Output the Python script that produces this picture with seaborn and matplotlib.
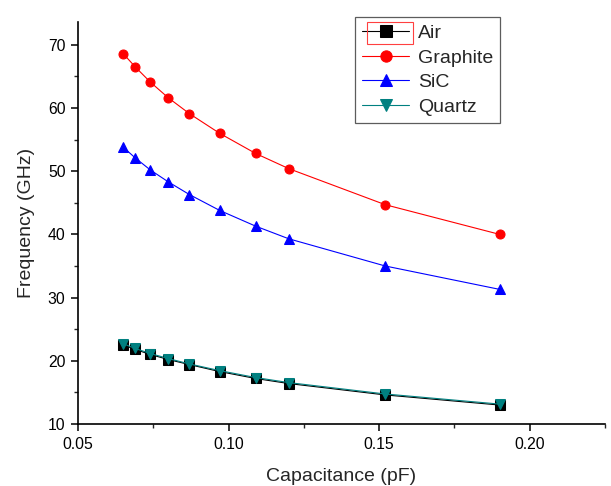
import matplotlib
matplotlib.use("Agg")
import matplotlib.pyplot as plt
import seaborn as sns
import pandas as pd
from matplotlib.ticker import MultipleLocator, FormatStrFormatter
from matplotlib.patches import Rectangle

sns.set_theme(style="ticks")
plt.rcParams['font.family'] = ['Liberation Sans', 'DejaVu Sans']

capacitance = [0.065, 0.069, 0.074, 0.080, 0.087, 0.097, 0.109, 0.120, 0.152, 0.190]
air = [22.5, 21.8, 21.0, 20.2, 19.4, 18.3, 17.2, 16.4, 14.6, 13.0]
graphite = [68.6, 66.5, 64.1, 61.6, 59.1, 56.0, 52.8, 50.4, 44.7, 40.0]
sic = [53.8, 52.1, 50.2, 48.3, 46.3, 43.8, 41.3, 39.3, 35.0, 31.3]
quartz = [22.7, 21.95, 21.15, 20.35, 19.5, 18.45, 17.35, 16.55, 14.75, 13.15]

series = {"Air": air, "Graphite": graphite, "SiC": sic, "Quartz": quartz}
colors = {"Air": "#000000", "Graphite": "#ff0000", "SiC": "#0000ff", "Quartz": "#008080"}
markers = {"Air": "s", "Graphite": "o", "SiC": "^", "Quartz": "v"}

rows = []
for name, vals in series.items():
    for c, f in zip(capacitance, vals):
        rows.append({"Capacitance": c, "Frequency": f, "Material": name})
df = pd.DataFrame(rows)

fig = plt.figure(figsize=(6.11, 4.86), dpi=100)
ax = fig.add_axes([78 / 611, 1 - 424 / 486, 527 / 611, 402 / 486])

for name in series:
    sub = df[df["Material"] == name]
    sns.lineplot(data=sub, x="Capacitance", y="Frequency", ax=ax,
                 color=colors[name], marker=markers[name], markersize=6.5,
                 markeredgecolor=colors[name], linewidth=0.8, label=name,
                 estimator=None, sort=False)

ax.set_xlim(0.05, 0.225)
ax.set_ylim(10, 73.6)
ax.xaxis.set_major_locator(MultipleLocator(0.05))
ax.xaxis.set_minor_locator(MultipleLocator(0.025))
ax.yaxis.set_major_locator(MultipleLocator(10))
ax.yaxis.set_minor_locator(MultipleLocator(5))
ax.xaxis.set_major_formatter(FormatStrFormatter("%.2f"))
ax.tick_params(which="major", direction="out", length=5, width=1.1,
               labelsize=11.3, colors="#000000", pad=4)
ax.tick_params(which="minor", direction="out", length=3, width=1.0)
for s in ["top", "right"]:
    ax.spines[s].set_visible(False)
for s in ["left", "bottom"]:
    ax.spines[s].set_color("#000000")
    ax.spines[s].set_linewidth(1.2)

ax.set_xlabel("Capacitance (pF)", fontsize=14, labelpad=12)
ax.set_ylabel("Frequency (GHz)", fontsize=14, labelpad=9)

leg = ax.legend(loc="upper left", bbox_to_anchor=(355 / 611, 1 - 17 / 486),
                bbox_transform=fig.transFigure, fontsize=14, frameon=True,
                fancybox=False, edgecolor="#333333", handlelength=2.4,
                borderpad=0.38, labelspacing=0.36, handletextpad=0.45,
                borderaxespad=0, markerscale=1.25)
leg.get_frame().set_linewidth(0.9)

# thin red box around the first legend key
fig.add_artist(Rectangle((367 / 611, 1 - 44 / 486), 46 / 611, 22 / 486,
                         transform=fig.transFigure, fill=False,
                         edgecolor="#ff4040", linewidth=0.8))

fig.savefig("out.png", dpi=100)
